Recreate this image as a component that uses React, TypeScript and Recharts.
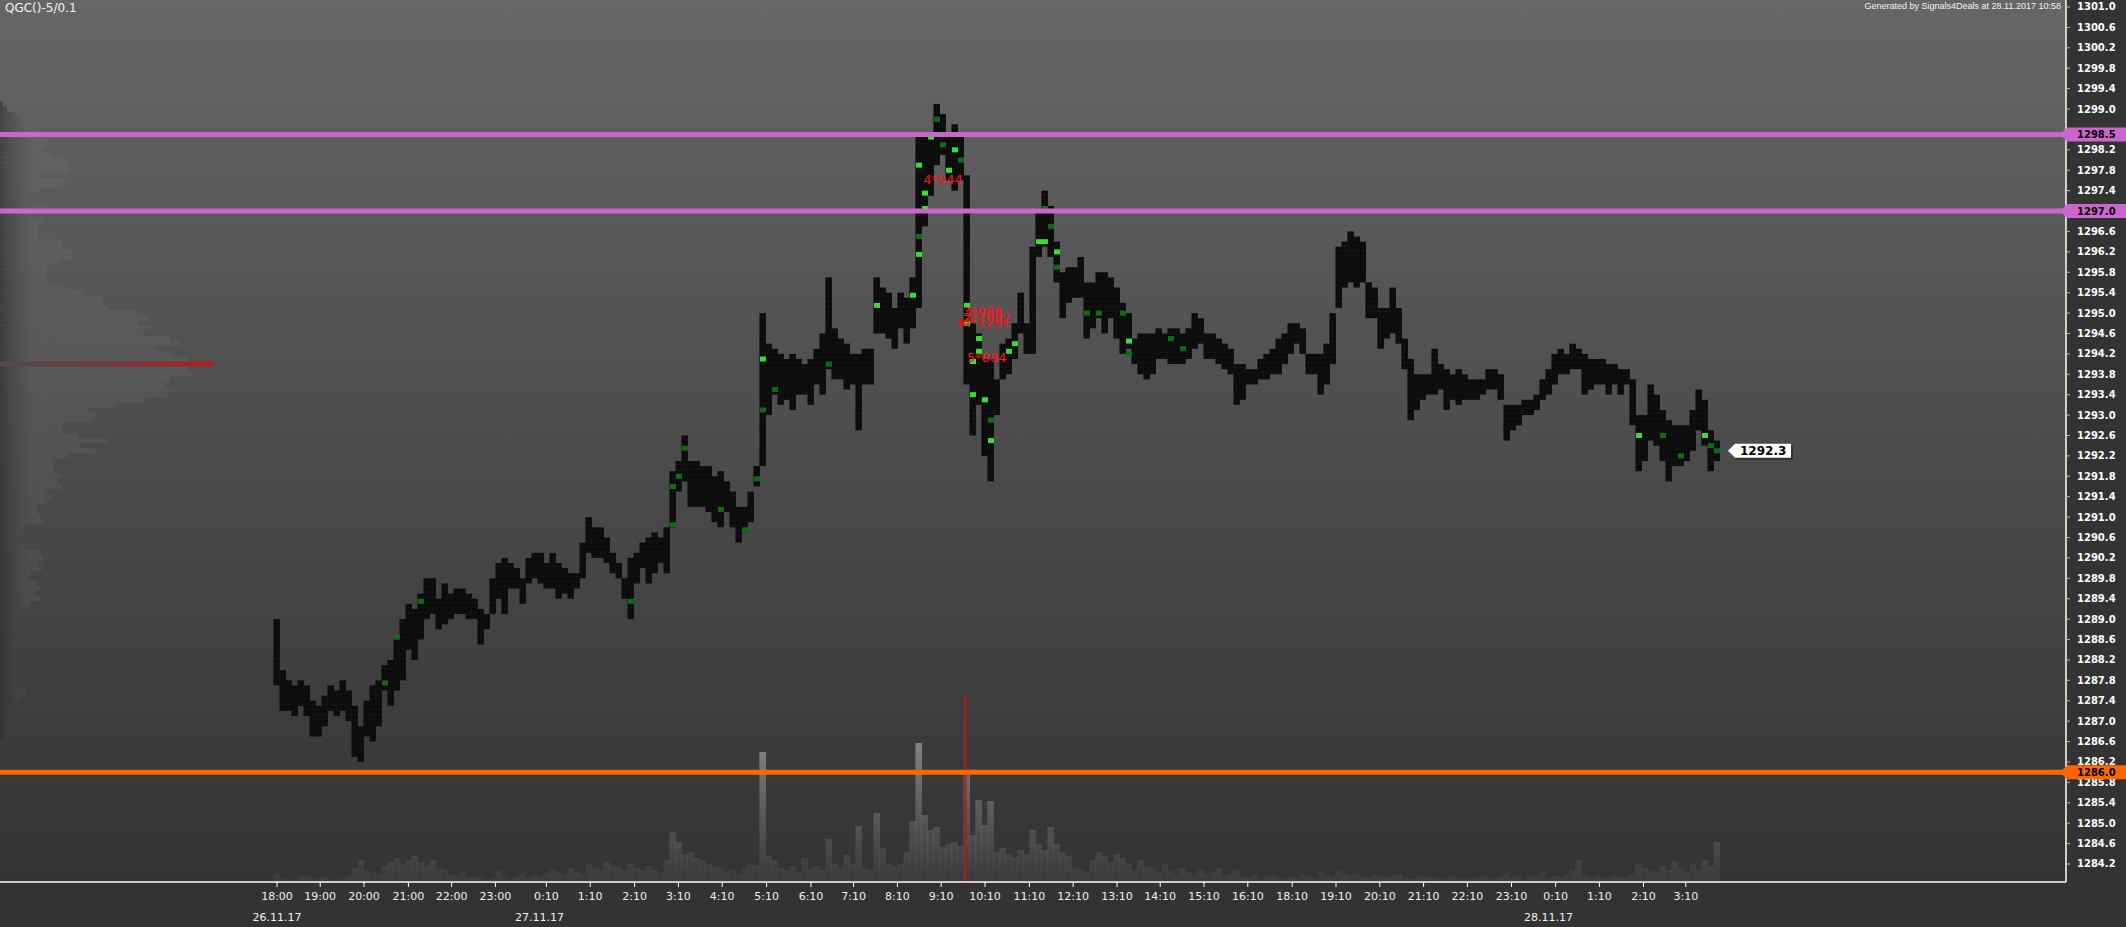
import React from 'react';
import {
  ComposedChart, BarChart, Bar, Cell, Scatter, XAxis, YAxis,
  ReferenceLine, ReferenceDot,
} from 'recharts';

const WIDTH = 2126;
const HEIGHT = 927;
const AXIS_W = 60;
const AXIS_H = 45;
const FLAT = { top: 0, right: 0, bottom: 0, left: 0 };
const INNER = { top: 0, right: AXIS_W, bottom: AXIS_H, left: 0 }; // for charts with hidden axes
const PLOT_W = WIDTH - AXIS_W;
const PLOT_H = HEIGHT - AXIS_H;
const FIRST_BAR_PX = 277; // where bar 0 sits
const BAR_PX = 6;         // width of one bar slot
const X_DOMAIN = [-FIRST_BAR_PX / BAR_PX, (PLOT_W - FIRST_BAR_PX) / BAR_PX];
const PRICE_DOMAIN = [1283.847, 1301.137];
const FONT = 'DejaVu Sans, Verdana, sans-serif';

// low / high of every bar
const priceBars = [
  [1287.7, 1289.0], [1287.2, 1288.0], [1287.2, 1287.8], [1287.1, 1287.7], [1287.3, 1287.8],
  [1287.1, 1287.7], [1286.7, 1287.4], [1286.7, 1287.3], [1286.9, 1287.5], [1287.2, 1287.7],
  [1287.1, 1287.6], [1287.2, 1287.8], [1287.0, 1287.6], [1286.3, 1287.3], [1286.2, 1286.9],
  [1286.7, 1287.4], [1286.6, 1287.7], [1286.9, 1287.8], [1287.6, 1288.1], [1287.3, 1288.2],
  [1287.6, 1288.6], [1287.8, 1289.0], [1288.4, 1289.3], [1288.2, 1289.2], [1288.6, 1289.5],
  [1289.0, 1289.8], [1289.1, 1289.8], [1288.8, 1289.4], [1288.9, 1289.7], [1289.0, 1289.5],
  [1289.1, 1289.6], [1289.1, 1289.6], [1289.0, 1289.5], [1289.0, 1289.4], [1288.5, 1289.2],
  [1288.8, 1289.1], [1289.1, 1289.8], [1289.4, 1290.1], [1289.1, 1290.2], [1289.6, 1290.1],
  [1289.6, 1290.0], [1289.3, 1289.8], [1289.7, 1290.2], [1289.8, 1290.3], [1289.7, 1290.3],
  [1289.6, 1290.1], [1289.6, 1290.3], [1289.4, 1290.1], [1289.5, 1290.0], [1289.4, 1289.9],
  [1289.6, 1289.9], [1289.8, 1290.5], [1290.3, 1291.0], [1290.2, 1290.8], [1290.2, 1290.8],
  [1290.1, 1290.6], [1289.9, 1290.3], [1289.8, 1290.1], [1289.4, 1289.8], [1289.0, 1290.2],
  [1289.7, 1290.3], [1290.0, 1290.5], [1289.7, 1290.6], [1289.9, 1290.7], [1290.1, 1290.6],
  [1289.9, 1290.8], [1290.8, 1291.9], [1291.5, 1292.1], [1291.7, 1292.6], [1291.2, 1292.1],
  [1291.2, 1292.1], [1291.2, 1292.0], [1291.1, 1292.0], [1290.9, 1291.8], [1290.8, 1291.9],
  [1291.1, 1291.7], [1290.8, 1291.5], [1290.5, 1291.2], [1290.7, 1291.2], [1290.9, 1291.5],
  [1291.6, 1292.0], [1292.0, 1295.0], [1293.0, 1294.4], [1293.4, 1294.3], [1293.2, 1294.2],
  [1293.3, 1294.1], [1293.1, 1294.2], [1293.4, 1294.1], [1293.4, 1294.0], [1293.2, 1294.1],
  [1293.6, 1294.3], [1293.4, 1294.6], [1293.9, 1295.7], [1293.7, 1294.7], [1293.7, 1294.5],
  [1293.5, 1294.4], [1293.6, 1294.2], [1292.7, 1294.2], [1293.6, 1294.3], [1293.6, 1294.3],
  [1294.6, 1295.7], [1294.6, 1295.5], [1294.5, 1295.4], [1294.3, 1295.1], [1294.7, 1295.4],
  [1294.4, 1295.3], [1294.7, 1295.7], [1295.1, 1298.5], [1296.7, 1298.5], [1297.3, 1298.5],
  [1297.9, 1299.1], [1298.1, 1298.9], [1297.6, 1298.5], [1297.4, 1298.7], [1297.6, 1298.5],
  [1293.6, 1297.7], [1292.6, 1294.8], [1293.2, 1294.6], [1292.2, 1294.1], [1291.7, 1294.1],
  [1293.0, 1293.7], [1293.7, 1294.4], [1293.8, 1294.5], [1294.1, 1294.8], [1294.6, 1295.4],
  [1294.2, 1294.8], [1294.2, 1296.3], [1296.1, 1297.0], [1296.3, 1297.4], [1296.1, 1297.1],
  [1295.6, 1296.4], [1294.9, 1295.8], [1295.2, 1295.9], [1295.3, 1295.9], [1295.3, 1296.1],
  [1294.5, 1295.6], [1294.7, 1295.6], [1294.9, 1295.8], [1294.6, 1295.8], [1294.9, 1295.7],
  [1294.5, 1295.5], [1294.2, 1295.2], [1294.3, 1295.0], [1294.0, 1294.5], [1293.8, 1294.6],
  [1293.7, 1294.6], [1293.8, 1294.6], [1294.1, 1294.7], [1294.1, 1294.6], [1294.0, 1294.7],
  [1294.0, 1294.7], [1294.0, 1294.6], [1294.1, 1294.7], [1294.3, 1295.0], [1294.4, 1294.9],
  [1294.1, 1294.6], [1294.1, 1294.6], [1294.0, 1294.5], [1293.9, 1294.4], [1293.8, 1294.3],
  [1293.2, 1294.0], [1293.3, 1294.0], [1293.6, 1293.9], [1293.6, 1293.9], [1293.7, 1294.1],
  [1293.7, 1294.2], [1293.8, 1294.3], [1293.8, 1294.5], [1294.0, 1294.6], [1294.2, 1294.8],
  [1294.4, 1294.8], [1294.2, 1294.7], [1293.8, 1294.2], [1293.8, 1294.2], [1293.4, 1294.2],
  [1293.6, 1294.4], [1294.0, 1295.0], [1295.1, 1296.3], [1295.5, 1296.4], [1295.6, 1296.6],
  [1295.5, 1296.5], [1295.6, 1296.4], [1294.9, 1295.6], [1294.9, 1295.5], [1294.3, 1295.1],
  [1294.5, 1295.1], [1294.6, 1295.5], [1294.4, 1295.1], [1293.9, 1294.5], [1292.9, 1294.1],
  [1293.1, 1293.8], [1293.3, 1293.8], [1293.4, 1293.8], [1293.4, 1294.3], [1293.5, 1294.0],
  [1293.1, 1293.9], [1293.3, 1293.8], [1293.2, 1293.9], [1293.3, 1293.8], [1293.3, 1293.7],
  [1293.3, 1293.7], [1293.4, 1293.7], [1293.5, 1293.9], [1293.5, 1293.9], [1293.3, 1293.8],
  [1292.5, 1293.2], [1292.7, 1293.2], [1292.8, 1293.2], [1293.0, 1293.3], [1293.0, 1293.3],
  [1293.1, 1293.4], [1293.3, 1293.7], [1293.4, 1293.9], [1293.6, 1294.2], [1293.8, 1294.3],
  [1293.8, 1294.2], [1293.9, 1294.4], [1293.9, 1294.3], [1293.4, 1294.2], [1293.5, 1294.1],
  [1293.6, 1294.1], [1293.6, 1294.1], [1293.4, 1294.0], [1293.6, 1294.0], [1293.4, 1293.9],
  [1293.6, 1293.9], [1292.8, 1293.7], [1291.9, 1293.0], [1292.1, 1293.0], [1292.5, 1293.6],
  [1292.4, 1293.4], [1292.1, 1293.1], [1291.7, 1292.9], [1292.0, 1292.8], [1292.0, 1292.8],
  [1292.1, 1292.8], [1292.3, 1293.1], [1292.7, 1293.5], [1292.4, 1293.3], [1291.9, 1292.7],
  [1292.1, 1292.5],
];

// traded volume per bar
const volume = [
  8, 4, 3, 2, 5, 6, 4, 3, 5, 3,
  2, 4, 6, 14, 22, 12, 10, 8, 16, 20,
  24, 18, 22, 26, 20, 16, 22, 14, 12, 8,
  6, 10, 5, 4, 6, 3, 4, 12, 6, 3,
  5, 8, 4, 6, 5, 9, 12, 10, 7, 14,
  10, 8, 18, 14, 12, 20, 16, 15, 12, 18,
  14, 12, 16, 12, 10, 22, 50, 40, 28, 30,
  24, 22, 18, 16, 14, 10, 12, 8, 14, 18,
  16, 130, 26, 22, 14, 12, 16, 10, 24, 14,
  16, 12, 43, 18, 14, 27, 18, 56, 14, 12,
  69, 34, 18, 16, 18, 30, 61, 139, 67, 52,
  55, 35, 38, 40, 36, 107, 47, 82, 57, 81,
  30, 34, 28, 25, 32, 28, 52, 38, 32, 55,
  38, 30, 26, 14, 12, 10, 22, 30, 26, 20,
  28, 24, 18, 12, 22, 16, 14, 10, 18, 12,
  8, 14, 10, 6, 12, 8, 10, 14, 6, 8,
  12, 5, 4, 7, 3, 5, 6, 4, 3, 5,
  4, 8, 6, 4, 10, 6, 5, 12, 8, 6,
  9, 5, 4, 7, 5, 4, 6, 8, 5, 3,
  4, 6, 4, 5, 3, 4, 6, 4, 3, 5,
  4, 6, 4, 3, 5, 8, 4, 6, 3, 5,
  6, 10, 4, 6, 5, 8, 12, 22, 6, 4,
  7, 5, 3, 6, 4, 5, 8, 18, 14, 12,
  10, 16, 12, 20, 14, 10, 18, 12, 22, 16,
  40,
];

// highlighted cells (bar index, price)
const brightCells = [
  { i: 81, p: 1294.1 }, { i: 100, p: 1295.15 }, { i: 106, p: 1295.35 }, { i: 107, p: 1296.15 },
  { i: 107, p: 1297.9 }, { i: 108, p: 1297.05 }, { i: 108, p: 1297.35 }, { i: 109, p: 1298.45 },
  { i: 112, p: 1297.8 }, { i: 113, p: 1298.2 }, { i: 115, p: 1294.8 }, { i: 115, p: 1295.15 },
  { i: 116, p: 1294.05 }, { i: 116, p: 1293.4 }, { i: 117, p: 1294.5 }, { i: 117, p: 1294.25 },
  { i: 118, p: 1293.3 }, { i: 119, p: 1292.5 }, { i: 122, p: 1294.25 }, { i: 123, p: 1294.4 },
  { i: 127, p: 1296.4 }, { i: 128, p: 1296.4 }, { i: 130, p: 1296.2 }, { i: 142, p: 1294.45 },
  { i: 227, p: 1292.6 }, { i: 238, p: 1292.6 },
];
const darkCells = [
  { i: 18, p: 1287.75 }, { i: 20, p: 1288.65 }, { i: 24, p: 1289.35 }, { i: 59, p: 1289.35 },
  { i: 66, p: 1291.6 }, { i: 67, p: 1291.8 }, { i: 66, p: 1290.85 }, { i: 68, p: 1292.35 },
  { i: 74, p: 1291.15 }, { i: 78, p: 1290.75 }, { i: 80, p: 1291.75 }, { i: 81, p: 1293.1 },
  { i: 83, p: 1293.5 }, { i: 92, p: 1294.0 }, { i: 107, p: 1296.5 }, { i: 110, p: 1298.8 },
  { i: 111, p: 1298.3 }, { i: 114, p: 1298.0 }, { i: 119, p: 1292.9 }, { i: 128, p: 1297.05 },
  { i: 129, p: 1296.7 }, { i: 130, p: 1295.9 }, { i: 135, p: 1295.0 }, { i: 137, p: 1295.0 },
  { i: 141, p: 1295.0 }, { i: 142, p: 1294.2 }, { i: 149, p: 1294.5 }, { i: 151, p: 1294.3 },
  { i: 231, p: 1292.6 }, { i: 234, p: 1292.2 }, { i: 239, p: 1292.4 }, { i: 240, p: 1292.3 },
];

// big trades printed on the chart
const tradeNotes = [
  { i: 107.7, p: 1297.61, text: '4*944' },
  { i: 114.3, p: 1295.03, text: '3*988' },
  { i: 114.3, p: 1294.91, text: '2*1092' },
  { i: 114.3, p: 1294.81, text: '4*1291', mark: true },
  { i: 115.0, p: 1294.12, text: '5*884' },
];
const spikeMarker = { i: 114.7, top: 1287.5 };

// volume profile, one row per 0.1 starting at 1299.1
const PROFILE_TOP = 12991;
const POC = 1294.0;
const profileWidths = [
  3, 7, 15, 20, 27, 37, 40, 48, 47, 43,
  50, 68, 68, 70, 37, 65, 63, 40, 30, 27,
  47, 47, 32, 43, 38, 38, 38, 63, 63, 73,
  73, 58, 47, 47, 47, 47, 67, 82, 103, 103,
  107, 138, 148, 138, 150, 143, 170, 180, 155, 170,
  188, 213, 187, 193, 170, 165, 175, 167, 145, 117,
  87, 95, 92, 63, 62, 78, 107, 80, 95, 67,
  55, 53, 53, 62, 57, 63, 47, 52, 47, 37,
  37, 40, 43, 25, 22, 20, 18, 24, 40, 43,
  38, 42, 30, 28, 38, 40, 35, 40, 30, 22,
  20, 18, 16, 18, 15, 14, 16, 14, 12, 15,
  14, 13, 12, 14, 18, 26, 22, 18, 14, 12,
  10, 8, 6, 5, 4,
];

const levels = [
  { price: 1298.5, color: '#cc66cc' },
  { price: 1297.0, color: '#cc66cc' },
  { price: 1286.0, color: '#ff6600' },
];
const lastPrice = 1292.3;

// 1298.6 is not printed (it sits under the 1298.5 tag)
const priceTicks = [
  1301.0, 1300.6, 1300.2, 1299.8, 1299.4, 1299.0, 1298.2, 1297.8, 1297.4, 1297.0,
  1296.6, 1296.2, 1295.8, 1295.4, 1295.0, 1294.6, 1294.2, 1293.8, 1293.4, 1293.0, 1292.6,
  1292.2, 1291.8, 1291.4, 1291.0, 1290.6, 1290.2, 1289.8, 1289.4, 1289.0, 1288.6, 1288.2,
  1287.8, 1287.4, 1287.0, 1286.6, 1286.2, 1285.8, 1285.4, 1285.0, 1284.6, 1284.2,
];
const timeTicks = [
  0, 7.2, 14.5, 21.9, 29.1, 36.4, 44.9, 52.2, 59.6, 66.9, 74.2, 81.6, 89, 96.1, 103.4, 110.7,
  118, 125.4, 132.7, 140, 147.2, 154.5, 161.8, 169.2, 176.5, 183.8, 191.1, 198.4, 205.75,
  213.1, 220.4, 227.75, 234.8,
];
const timeLabels = [
  '18:00', '19:00', '20:00', '21:00', '22:00', '23:00', '0:10', '1:10', '2:10', '3:10', '4:10',
  '5:10', '6:10', '7:10', '8:10', '9:10', '10:10', '11:10', '12:10', '13:10', '14:10', '15:10',
  '16:10', '18:10', '19:10', '20:10', '21:10', '22:10', '23:10', '0:10', '1:10', '2:10', '3:10',
];
const dateLabels = { 0: '26.11.17', 6: '27.11.17', 29: '28.11.17' };

const rows = priceBars.map((range, i) => ({ i, range, vol: volume[i] }));
const profileRows = profileWidths.map((w, k) => ({ p: (PROFILE_TOP - k) / 10, w }));

const TimeTick = ({ x, y, payload }) => {
  const k = timeTicks.indexOf(payload.value);
  return (
    <g>
      <text x={x} y={y + 11} textAnchor="middle" fill="#f0f0f0" fontSize={11} fontFamily={FONT}>
        {timeLabels[k]}
      </text>
      {dateLabels[k] && (
        <text x={k === 0 ? x : x - 7} y={y + 32} textAnchor="middle" fill="#f0f0f0" fontSize={11} fontFamily={FONT}>
          {dateLabels[k]}
        </text>
      )}
    </g>
  );
};

const PriceTick = ({ x, y, payload }) => (
  <text x={x} y={y + 3.5} fill="#fff" fontSize={10} fontWeight="bold" fontFamily={FONT}>
    {Number(payload.value).toFixed(1)}
  </text>
);

const LevelTag = ({ viewBox, color, value }) => {
  if (!viewBox) return null;
  const x = viewBox.x + viewBox.width;
  const y = viewBox.y;
  return (
    <g>
      <polygon
        points={`${x - 6},${y} ${x + 1},${y - 7} ${x + 60},${y - 7} ${x + 60},${y + 7} ${x + 1},${y + 7}`}
        fill={color}
      />
      <text x={x + 11} y={y + 3.5} fill="#000" fontSize={10} fontWeight="bold" fontFamily={FONT}>
        {value.toFixed(1)}
      </text>
    </g>
  );
};

const PriceTag = ({ cx, cy }) => {
  const pts = `${cx + 11},${cy} ${cx + 18},${cy - 7} ${cx + 74},${cy - 7} ${cx + 74},${cy + 7} ${cx + 18},${cy + 7}`;
  return (
    <g>
      <polygon points={pts} fill="#000" opacity={0.35} transform="translate(2,2)" />
      <polygon points={pts} fill="#fff" />
      <text x={cx + 23} y={cy + 4.5} fill="#000" fontSize={12} fontWeight="bold" fontFamily={FONT}>
        {lastPrice.toFixed(1)}
      </text>
    </g>
  );
};

const TradeNote = ({ cx, cy, text, mark }) => (
  <g>
    {mark && <rect x={cx - 4} y={cy - 3} width={5} height={6} fill="#e01010" />}
    <text x={cx} y={cy + 4.5} fill="#ff1414" fontSize={13} fontFamily={FONT}>{text}</text>
  </g>
);

// bars fill their whole slot so neighbours touch
const SlotBar = (fill) => ({ x, y, width, height }) => {
  if (!height) return null;
  const mid = x + width / 2;
  const top = Math.min(y, y + height);
  return <rect x={mid - BAR_PX / 2 - 0.3} y={top} width={BAR_PX + 0.6} height={Math.abs(height)} fill={fill} />;
};

const Cell6 = (color) => ({ cx, cy }) => (
  <rect x={cx - BAR_PX / 2} y={cy - 2.5} width={BAR_PX} height={5} fill={color} />
);

const layer = { position: 'absolute', left: 0, top: 0 } as const;

export default function App() {
  return (
    <div style={{ position: 'absolute', left: 0, top: 0, width: WIDTH, height: HEIGHT, background: '#333333', fontFamily: FONT }}>
      <div style={{ ...layer, width: PLOT_W, height: PLOT_H, background: 'linear-gradient(#666666, #333333)' }} />

      {/* volume profile on the left */}
      <div style={layer}>
        <BarChart width={WIDTH} height={HEIGHT} data={profileRows} layout="vertical" margin={INNER} barCategoryGap={0}>
          <defs>
            <linearGradient id="profGrad" x1="0" y1="0" x2="220" y2="0" gradientUnits="userSpaceOnUse">
              <stop offset="0" stopColor="#262626" stopOpacity={0.5} />
              <stop offset="0.22" stopColor="#8a8a8a" stopOpacity={0.12} />
              <stop offset="1" stopColor="#9a9a9a" stopOpacity={0.1} />
            </linearGradient>
            <linearGradient id="pocGrad" x1="0" y1="0" x2="1" y2="0">
              <stop offset="0" stopColor="#6a2a2a" stopOpacity={0.15} />
              <stop offset="1" stopColor="#b42020" stopOpacity={1} />
            </linearGradient>
          </defs>
          <XAxis type="number" domain={[0, PLOT_W]} hide allowDataOverflow />
          <YAxis type="number" dataKey="p" domain={PRICE_DOMAIN} reversed hide allowDataOverflow />
          <Bar dataKey="w" barSize={5} isAnimationActive={false}>
            {profileRows.map((r) => (
              <Cell key={r.p} fill={Math.abs(r.p - POC) < 0.01 ? 'url(#pocGrad)' : 'url(#profGrad)'} />
            ))}
          </Bar>
        </BarChart>
      </div>

      {/* price bars, volume, axes */}
      <div style={layer}>
        <ComposedChart width={WIDTH} height={HEIGHT} data={rows} margin={FLAT} barGap={0} barCategoryGap={0}>
          <defs>
            <linearGradient id="volGrad" x1="0" y1="730" x2="0" y2={PLOT_H} gradientUnits="userSpaceOnUse">
              <stop offset="0" stopColor="#c4c4c4" stopOpacity={0.6} />
              <stop offset="1" stopColor="#8a8a8a" stopOpacity={0.08} />
            </linearGradient>
            <pattern id="cellGrid" width="3" height="5.1" patternUnits="userSpaceOnUse">
              <rect width="3" height="5.1" fill="#0a0a0a" />
              <path d="M0 0 H3 M0 0 V5.1" stroke="#1f1f1f" strokeWidth="0.6" />
            </pattern>
          </defs>
          <XAxis
            xAxisId="p" type="number" dataKey="i" domain={X_DOMAIN} allowDataOverflow
            ticks={timeTicks} interval={0} tick={<TimeTick />} height={AXIS_H}
            axisLine={{ stroke: '#ffffff', strokeWidth: 1.5 }} tickLine={{ stroke: '#ffffff' }} tickSize={5}
          />
          <XAxis xAxisId="v" type="number" dataKey="i" domain={X_DOMAIN} allowDataOverflow hide />
          <YAxis
            yAxisId="price" orientation="right" type="number" domain={PRICE_DOMAIN} allowDataOverflow
            ticks={priceTicks} interval={0} tick={<PriceTick />} width={AXIS_W}
            axisLine={{ stroke: '#ffffff', strokeWidth: 1.5 }} tickLine={{ stroke: '#bbbbbb' }}
            tickSize={4} tickMargin={7}
          />
          <YAxis yAxisId="vol" type="number" domain={[0, PLOT_H]} allowDataOverflow hide />

          <Bar
            xAxisId="v" yAxisId="vol" dataKey="vol" barSize={BAR_PX}
            shape={SlotBar('url(#volGrad)')} isAnimationActive={false}
          />
          <ReferenceLine
            xAxisId="p" yAxisId="price"
            segment={[{ x: spikeMarker.i, y: spikeMarker.top }, { x: spikeMarker.i, y: PRICE_DOMAIN[0] }]}
            stroke="#a81e1e" strokeOpacity={0.85} strokeWidth={3}
          />

          <Bar
            xAxisId="p" yAxisId="price" dataKey="range" barSize={BAR_PX}
            shape={SlotBar('url(#cellGrid)')} isAnimationActive={false}
          />
          <Scatter xAxisId="p" yAxisId="price" data={darkCells} dataKey="p" shape={Cell6('#0e6e0e')} isAnimationActive={false} />
          <Scatter xAxisId="p" yAxisId="price" data={brightCells} dataKey="p" shape={Cell6('#35e035')} isAnimationActive={false} />

          {tradeNotes.map((n) => (
            <ReferenceDot
              key={n.text} xAxisId="p" yAxisId="price" x={n.i} y={n.p} r={0}
              shape={(props) => <TradeNote {...props} text={n.text} mark={n.mark} />}
            />
          ))}
          <ReferenceDot
            xAxisId="p" yAxisId="price" x={priceBars.length - 1} y={lastPrice} r={0}
            shape={(props) => <PriceTag {...props} />}
          />
        </ComposedChart>
      </div>

      {/* level lines with their tags, above the axis labels */}
      <div style={layer}>
        <ComposedChart width={WIDTH} height={HEIGHT} data={rows} margin={INNER}>
          <XAxis type="number" dataKey="i" domain={X_DOMAIN} allowDataOverflow hide />
          <YAxis type="number" domain={PRICE_DOMAIN} allowDataOverflow hide />
          {levels.map((l) => (
            <ReferenceLine
              key={l.price} y={l.price} stroke={l.color} strokeWidth={5}
              label={<LevelTag color={l.color} value={l.price} />}
            />
          ))}
        </ComposedChart>
      </div>

      <div style={{ position: 'absolute', left: 5, top: 1, color: '#f4f4f4', fontSize: 12, fontFamily: FONT }}>
        QGC()-5/0.1
      </div>
      <div style={{
        position: 'absolute', right: WIDTH - 2061, top: 1, color: '#f4f4f4', fontSize: 9,
        fontFamily: 'Liberation Sans, Arial, sans-serif',
      }}>
        Generated by Signals4Deals at 28.11.2017 10:58
      </div>
    </div>
  );
}
